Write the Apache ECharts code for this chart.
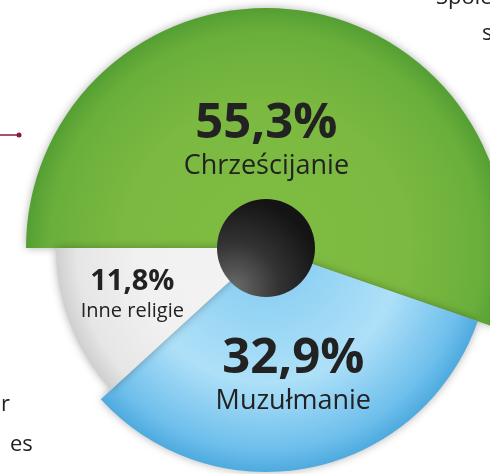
<!DOCTYPE html>
<html>
<head>
<meta charset="utf-8">
<script src="https://cdn.jsdelivr.net/npm/echarts@6/dist/echarts.min.js"></script>
<style>
  html, body { margin: 0; padding: 0; background: #fff; }
  #chart { width: 490px; height: 474px; }
</style>
</head>
<body>
<div id="chart"></div>
<script>
const categories = ['Chrześcijanie', 'Muzułmanie', 'Inne religie'];
const shares = [55.3, 32.9, 11.8];

// style per slice (not data)
const cx = 266, cy = 248;
const radii = [240, 224, 210];
const gradients = [
  ['#80bc42', '#7bb940', '#6aaf3b', '#549f33'],
  ['#7ec9f0', '#aee0f8', '#6ebfec', '#4eaade'],
  ['#f3f3f3', '#f1f1f1', '#e6e6e6', '#cfcfcf']
];
const labelShift = [[-20, 15], [4, 16], [-33, 8]];

const chart = echarts.init(document.getElementById('chart'));
const fontFamily = '"Open Sans", "Noto Sans", sans-serif';

function pct(v) {
  return v.toFixed(1).replace('.', ',') + '%';
}

const series = categories.map(function (name, k) {
  const g = gradients[k];
  const small = k === 2;
  return {
    type: 'pie',
    center: [cx, cy],
    radius: [0, radii[k]],
    startAngle: 180,
    clockwise: true,
    silent: true,
    animation: false,
    z: 2,
    labelLayout: { dx: labelShift[k][0], dy: labelShift[k][1] },
    data: categories.map(function (c, i) {
      if (i !== k) {
        return { name: c, value: shares[i], itemStyle: { color: 'rgba(0,0,0,0)' }, label: { show: false } };
      }
      return {
        name: c,
        value: shares[i],
        itemStyle: {
          color: {
            type: 'radial', x: cx, y: cy, r: radii[k], global: true,
            colorStops: [
              { offset: 0, color: g[0] },
              { offset: 0.6, color: g[1] },
              { offset: 0.9, color: g[2] },
              { offset: 1, color: g[3] }
            ]
          },
          shadowBlur: 8,
          shadowColor: 'rgba(0,0,0,0.3)'
        },
        label: {
          show: true,
          position: 'inside',
          formatter: '{p|' + pct(shares[i]) + '}\n{n|' + c + '}',
          rich: {
            p: { fontFamily: fontFamily, fontSize: small ? 29 : 49, fontWeight: 'bold', color: '#222', lineHeight: small ? 32 : 50, align: 'center' },
            n: { fontFamily: fontFamily, fontSize: small ? 20 : 27, color: '#222', lineHeight: small ? 26 : 36, align: 'center' }
          }
        }
      };
    }),
    labelLine: { show: false }
  };
});

// dark hub in the middle
series.push({
  type: 'pie',
  center: [cx, cy],
  radius: [0, 49],
  silent: true,
  animation: false,
  z: 5,
  label: { show: false },
  data: [{
    value: 1,
    itemStyle: {
      color: {
        type: 'radial', x: cx - 32, y: cy + 40, r: 90, global: true,
        colorStops: [
          { offset: 0, color: '#6a6a6a' },
          { offset: 0.5, color: '#333' },
          { offset: 1, color: '#141414' }
        ]
      }
    }
  }]
});

chart.setOption({
  backgroundColor: '#fff',
  series: series,
  graphic: [
    { type: 'line', shape: { x1: 0, y1: 135, x2: 19, y2: 135 }, style: { stroke: '#8b1a3a', lineWidth: 1.5 } },
    { type: 'circle', shape: { cx: 19, cy: 135, r: 2.5 }, style: { fill: '#8b1a3a' } },
    { type: 'text', left: 436, top: -13, style: { text: 'Społe', fontFamily: fontFamily, fontSize: 22, fill: '#222' } },
    { type: 'text', left: 482, top: 23, style: { text: 's', fontFamily: fontFamily, fontSize: 22, fill: '#222' } },
    { type: 'text', left: 1, top: 394, style: { text: 'r', fontFamily: fontFamily, fontSize: 22, fill: '#222' } },
    { type: 'text', left: 10, top: 434, style: { text: 'es', fontFamily: fontFamily, fontSize: 22, fill: '#222' } }
  ]
});
</script>
</body>
</html>
